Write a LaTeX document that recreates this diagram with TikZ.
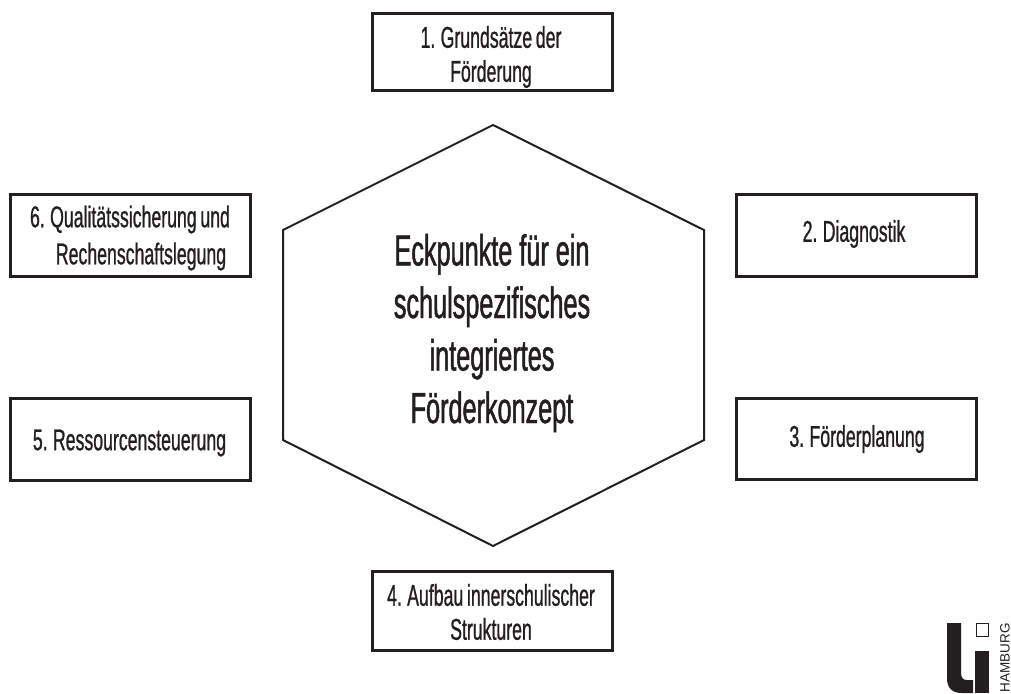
\documentclass[tikz,border=0pt]{standalone}
\usepackage{fontspec}
\setmainfont[FakeStretch=0.58,FakeBold=1.1,WordSpace=1.0]{Liberation Sans}
\newfontfamily\boxfont[FakeStretch=0.59,FakeBold=0.8,WordSpace=0.75]{Liberation Sans}
\newfontfamily\logofont{Liberation Sans}
\definecolor{ink}{HTML}{231F20}
\tikzset{
  x=1pt,y=-1pt,
  boxstyle/.style={draw=ink,line width=3pt,fill=white,inner sep=0pt},
  boxtext/.style={text=ink,align=center,inner sep=0pt,font=\boxfont\fontsize{30}{34}\selectfont},
  hexstyle/.style={draw=ink,line width=2pt,fill=white,line join=miter},
  hextext/.style={text=ink,align=center,inner sep=0pt,font=\fontsize{43.5}{52.5}\selectfont},
}
\newcommand{\bx}[5]{\node[boxstyle,minimum width=#4 pt-3pt,minimum height=#5 pt-3pt] (#1) at (#2,#3) {};}
\begin{document}
\begin{tikzpicture}
\useasboundingbox (0,0) rectangle (1011,693);
\draw[hexstyle] (493,125) -- (704,230) -- (704,440) -- (493,546) -- (283,440) -- (283,230) -- cycle;
\node[hextext] (centre) at (492,333) {Eckpunkte für ein\\schulspezifisches\\integriertes\\Förderkonzept};
\bx{b1}{492.5}{52}{243}{80}
\bx{b2}{856.5}{235.5}{243}{85}
\bx{b3}{856.5}{439}{243}{84}
\bx{b4}{492.5}{611}{243}{82}
\bx{b5}{130.5}{439.5}{243}{85}
\bx{b6}{130.5}{235.5}{243}{85}
\node[boxtext] (t1) at (491,57) {1. Grundsätze der\\Förderung};
\node[boxtext] (t2) at (854,234) {2. Diagnostik};
\node[boxtext] (t3) at (857,439) {3. Förderplanung};
\node[boxtext] (t4) at (491,612) {4. Aufbau innerschulischer\\Strukturen};
\node[boxtext] (t5) at (129.5,443) {5. Ressourcensteuerung};
\node[boxtext,font=\boxfont\fontsize{30}{37}\selectfont] (t6) at (130,238) {6. Qualitätssicherung und\\\hspace*{22pt}Rechenschaftslegung};
\fill[ink] (947,623) -- (961,623) -- (961,672) .. controls (961,678) and (963,680) .. (967,680) -- (973,680) -- (973,693) -- (962,693) .. controls (952,693) and (947,688) .. (947,678) -- cycle;
\fill[ink] (975,651) rectangle (989,693);
\draw[ink,line width=0.8pt] (976.5,623.5) rectangle (988,636);
\node[rotate=90,anchor=east,inner sep=0pt,text=ink,font=\logofont\fontsize{13.5}{14}\selectfont] (logo) at (1005,623) {HAMBURG};
\end{tikzpicture}
\end{document}
